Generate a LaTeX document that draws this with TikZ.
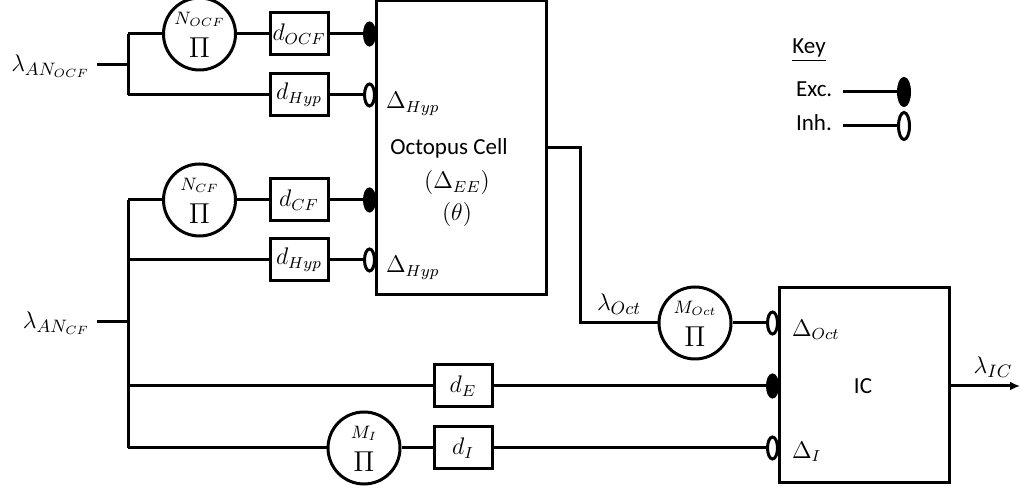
\documentclass[tikz,border=0pt]{standalone}
\usepackage{fontspec}
\setmainfont{Carlito}
\usetikzlibrary{shapes.geometric,arrows.meta}
\begin{document}
\begin{tikzpicture}[x=0.5pt,y=-0.5pt,
  every node/.style={font=\fontsize{11.5}{13}\selectfont},
  wire/.style={line width=1.5pt},
  cellbox/.style={draw,line width=1.5pt,rectangle,inner sep=0pt},
  delaybox/.style={draw,line width=1.5pt,minimum width=29pt,minimum height=21pt,inner sep=0pt},
  neuron/.style={draw,circle,line width=1.5pt,minimum size=36pt,inner sep=0pt},
  nname/.style={inner sep=0pt,font=\fontsize{9}{9}\selectfont},
  npi/.style={inner sep=0pt,font=\fontsize{15}{15}\selectfont},
  excsyn/.style={draw,ellipse,fill=black,line width=1.5pt,minimum width=5pt,minimum height=11pt,inner sep=0pt},
  inhsyn/.style={draw,ellipse,fill=white,line width=1.5pt,minimum width=5pt,minimum height=11pt,inner sep=0pt},
  keysyn/.style={minimum width=5.5pt,minimum height=13.5pt},
  biglabel/.style={font=\fontsize{13}{15}\selectfont},
]
\useasboundingbox (0,0) rectangle (1021,490);

% cells
\node[cellbox,minimum width=85pt,minimum height=147pt] (oct) at (461,148) {};
\node (octname) at (449,148) {Octopus Cell};
\node (octee) at (457,183) {$(\Delta_{EE})$};
\node (octth) at (457,215) {$(\theta)$};
\node[cellbox,minimum width=85pt,minimum height=97.5pt] (IC) at (864,385) {};
\node (icname) at (863,386) {IC};

% OCF branch
\node[biglabel,anchor=east] (lOCF) at (97,66) {$\lambda_{AN_{OCF}}$};
\coordinate (j1) at (128,65);
\coordinate (j1t) at (128,34);
\coordinate (j1b) at (128,95);
\node[neuron] (NOCF) at (199.5,34) {};
\node[nname] (NOCFn) at (199.5,19) {$N_{OCF}$};
\node[npi] (NOCFp) at (199.5,48) {$\Pi$};
\node[delaybox] (dOCF) at (299,34) {$d_{OCF}$};
\node[excsyn,anchor=east] (s1) at (376,34) {};
\node[delaybox] (dHyp1) at (299,95) {$d_{Hyp}$};
\node[inhsyn,anchor=east] (s2) at (376,95) {};
\node[anchor=west] (DH1) at (379,104) {$\Delta_{Hyp}$};

\draw[wire] (lOCF.east |- j1) -- (j1);
\draw[wire] (j1t) -- (j1b);
\draw[wire] (j1t) -- (NOCF) -- (dOCF) -- (s1);
\draw[wire] (j1b) -- (dHyp1) -- (s2);

% CF branch
\node[biglabel,anchor=east] (lCF) at (97,323) {$\lambda_{AN_{CF}}$};
\coordinate (j2) at (128,322);
\coordinate (j2t) at (128,200);
\coordinate (j2h) at (128,260);
\coordinate (j2e) at (128,386);
\coordinate (j2b) at (128,448);
\node[neuron] (NCF) at (199.5,200) {};
\node[nname] (NCFn) at (199.5,185) {$N_{CF}$};
\node[npi] (NCFp) at (199.5,214) {$\Pi$};
\node[delaybox] (dCF) at (299,200) {$d_{CF}$};
\node[excsyn,anchor=east] (s3) at (376,200) {};
\node[delaybox] (dHyp2) at (299,260) {$d_{Hyp}$};
\node[inhsyn,anchor=east] (s4) at (376,260) {};
\node[anchor=west] (DH2) at (379,268) {$\Delta_{Hyp}$};
\node[delaybox] (dE) at (463,386) {$d_{E}$};
\node[excsyn,anchor=east] (s6) at (779,386) {};
\node[neuron] (MI) at (364,448) {};
\node[nname] (MIn) at (364,433) {$M_{I}$};
\node[npi] (MIp) at (364,462) {$\Pi$};
\node[delaybox] (dI) at (463,448) {$d_{I}$};
\node[inhsyn,anchor=east] (s7) at (779,448) {};
\node[anchor=west] (DI) at (785,452) {$\Delta_{I}$};

\draw[wire] (lCF.east |- j2) -- (j2);
\draw[wire] (j2t) -- (j2b);
\draw[wire] (j2t) -- (NCF) -- (dCF) -- (s3);
\draw[wire] (j2h) -- (dHyp2) -- (s4);
\draw[wire] (j2e) -- (dE) -- (s6);
\draw[wire] (j2b) -- (MI) -- (dI) -- (s7);

% octopus output
\coordinate (o1) at (580,148);
\coordinate (o2) at (580,323);
\node[biglabel] (lOct) at (619,304) {$\lambda_{Oct}$};
\node[neuron] (MOct) at (695,323) {};
\node[nname] (MOctn) at (695,308) {$M_{Oct}$};
\node[npi] (MOctp) at (695,337) {$\Pi$};
\node[inhsyn,anchor=east] (s5) at (779,323) {};
\node[anchor=west] (DOct) at (785,330) {$\Delta_{Oct}$};
\draw[wire] (oct.east |- o1) -- (o1) -- (o2) -- (MOct) -- (s5);

% IC output
\coordinate (out) at (1020,386);
\node[biglabel] (lIC) at (993,367) {$\lambda_{IC}$};
\draw[wire,-{Latex[length=5pt,width=4.5pt]}] (IC.east |- out) -- (out);

% key
\node (key) at (809,50) {\underline{Key}};
\node[anchor=west] (kexc) at (789,89) {Exc.};
\node[anchor=west] (kinh) at (789,123) {Inh.};
\coordinate (ke) at (843,92);
\coordinate (ki) at (843,126);
\node[excsyn,keysyn] (ks1) at (904,92) {};
\node[inhsyn,keysyn] (ks2) at (904,126) {};
\draw[wire] (ke) -- (ks1);
\draw[wire] (ki) -- (ks2);
\end{tikzpicture}
\end{document}
